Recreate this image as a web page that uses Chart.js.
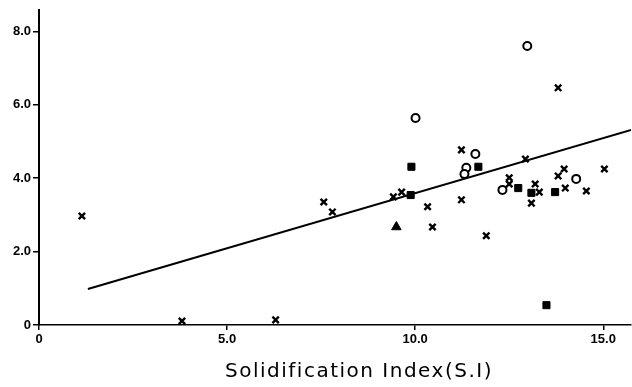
<!DOCTYPE html>
<html>
<head>
<meta charset="utf-8">
<script src="https://cdn.jsdelivr.net/npm/chart.js@4"></script>
<style>
  html, body { margin: 0; padding: 0; background: #fff; overflow: hidden; }
  #wrap { width: 638px; height: 387px; position: relative; }
  canvas { display: block; }
</style>
</head>
<body>
<div id="wrap"><canvas id="chart"></canvas></div>
<script>
// values
const crossX = [1.14, 3.80, 6.29, 7.57, 7.80, 9.42, 9.64, 10.33, 10.46, 11.23, 11.23, 11.89, 12.50, 12.50, 12.93, 13.19, 13.30, 13.09, 13.80, 13.96, 13.99, 14.55, 15.03, 13.80]
const crossY = [2.97, 0.11, 0.14, 3.35, 3.08, 3.49, 3.62, 3.22, 2.67, 4.77, 3.41, 2.43, 4.01, 3.84, 4.52, 3.84, 3.62, 3.32, 4.06, 4.25, 3.73, 3.65, 4.25, 6.46]
const circleX = [10.01, 12.98, 11.60, 11.36, 11.31, 12.32, 14.28]
const circleY = [5.64, 7.60, 4.66, 4.28, 4.11, 3.68, 3.98]
const squareX = [9.90, 9.88, 11.68, 12.74, 13.09, 13.72, 13.49]
const squareY = [4.31, 3.54, 4.31, 3.73, 3.60, 3.62, 0.54]
const triangleX = [9.50]
const triangleY = [2.67]
const fitX = [1.30, 15.74]
const fitY = [0.98, 5.31]

const xTicks = [0, 5, 10, 15]
const xTickLabels = ['0', '5.0', '10.0', '15.0']
const yTicks = [0, 2, 4, 6, 8]
const yTickLabels = ['0', '2.0', '4.0', '6.0', '8.0']
const xTitle = 'Solidification Index(S.I)'

function pts(xs, ys) {
    return xs.map((x, i) => ({ x: x, y: ys[i] }))
}

const tickFont = { family: '"Liberation Sans", Arial, sans-serif', size: 13, weight: 'bold' }

// axis title drawn by hand so it can sit where the scan has it
const titlePlugin = {
    id: 'axisTitle',
    afterDraw(chart) {
        const ctx = chart.ctx
        ctx.save()
        ctx.fillStyle = '#000'
        ctx.font = '20px "DejaVu Sans", sans-serif'
        ctx.letterSpacing = '1.5px'
        ctx.textAlign = 'center'
        ctx.textBaseline = 'middle'
        ctx.fillText(xTitle, 359, 372)
        ctx.restore()
    }
}

const bgPlugin = {
    id: 'bg',
    beforeDraw(chart) {
        const ctx = chart.ctx
        ctx.save()
        ctx.fillStyle = '#fff'
        ctx.fillRect(0, 0, chart.width, chart.height)
        ctx.restore()
    }
}

new Chart(document.getElementById('chart'), {
    type: 'scatter',
    data: {
        datasets: [
            {
                type: 'line',
                data: pts(fitX, fitY),
                borderColor: '#000',
                borderWidth: 2,
                pointRadius: 0,
                fill: false
            },
            {
                data: pts(crossX, crossY),
                pointStyle: 'crossRot',
                pointRadius: 4.5,
                borderColor: '#000',
                borderWidth: 2.4
            },
            {
                data: pts(circleX, circleY),
                pointStyle: 'circle',
                pointRadius: 4,
                backgroundColor: '#fff',
                borderColor: '#000',
                borderWidth: 2
            },
            {
                data: pts(squareX, squareY),
                pointStyle: 'rect',
                pointRadius: 5,
                backgroundColor: '#000',
                borderColor: '#000',
                borderWidth: 1
            },
            {
                data: pts(triangleX, triangleY),
                pointStyle: 'triangle',
                pointRadius: 5.5,
                backgroundColor: '#000',
                borderColor: '#000',
                borderWidth: 1
            }
        ]
    },
    options: {
        responsive: true,
        maintainAspectRatio: false,
        animation: false,
        layout: { padding: { top: 10, right: 0, left: 0, bottom: 0 } },
        plugins: {
            legend: { display: false },
            tooltip: { enabled: false }
        },
        scales: {
            x: {
                type: 'linear',
                min: 0,
                max: 15.74,
                afterBuildTicks: s => { s.ticks = xTicks.map(v => ({ value: v })) },
                afterFit: s => { s.height = 62; s.paddingRight = 0; s.paddingLeft = 0 },
                border: { display: true, color: '#000', width: 1.5 },
                grid: { drawOnChartArea: false, drawTicks: true, tickLength: 5, color: '#000', lineWidth: 1.5 },
                ticks: {
                    color: '#000',
                    font: tickFont,
                    padding: 2,
                    maxRotation: 0,
                    callback: (v) => xTickLabels[xTicks.indexOf(v)]
                }
            },
            y: {
                type: 'linear',
                min: 0,
                max: 8.58,
                afterBuildTicks: s => { s.ticks = yTicks.map(v => ({ value: v })) },
                afterFit: s => { s.width = 39; s.paddingTop = 0; s.paddingBottom = 0 },
                border: { display: true, color: '#000', width: 2 },
                grid: { drawOnChartArea: false, drawTicks: true, tickLength: 6, color: '#000', lineWidth: 1.5 },
                ticks: {
                    color: '#000',
                    font: tickFont,
                    padding: 2,
                    callback: (v) => yTickLabels[yTicks.indexOf(v)]
                }
            }
        }
    },
    plugins: [bgPlugin, titlePlugin]
})
</script>
</body>
</html>
